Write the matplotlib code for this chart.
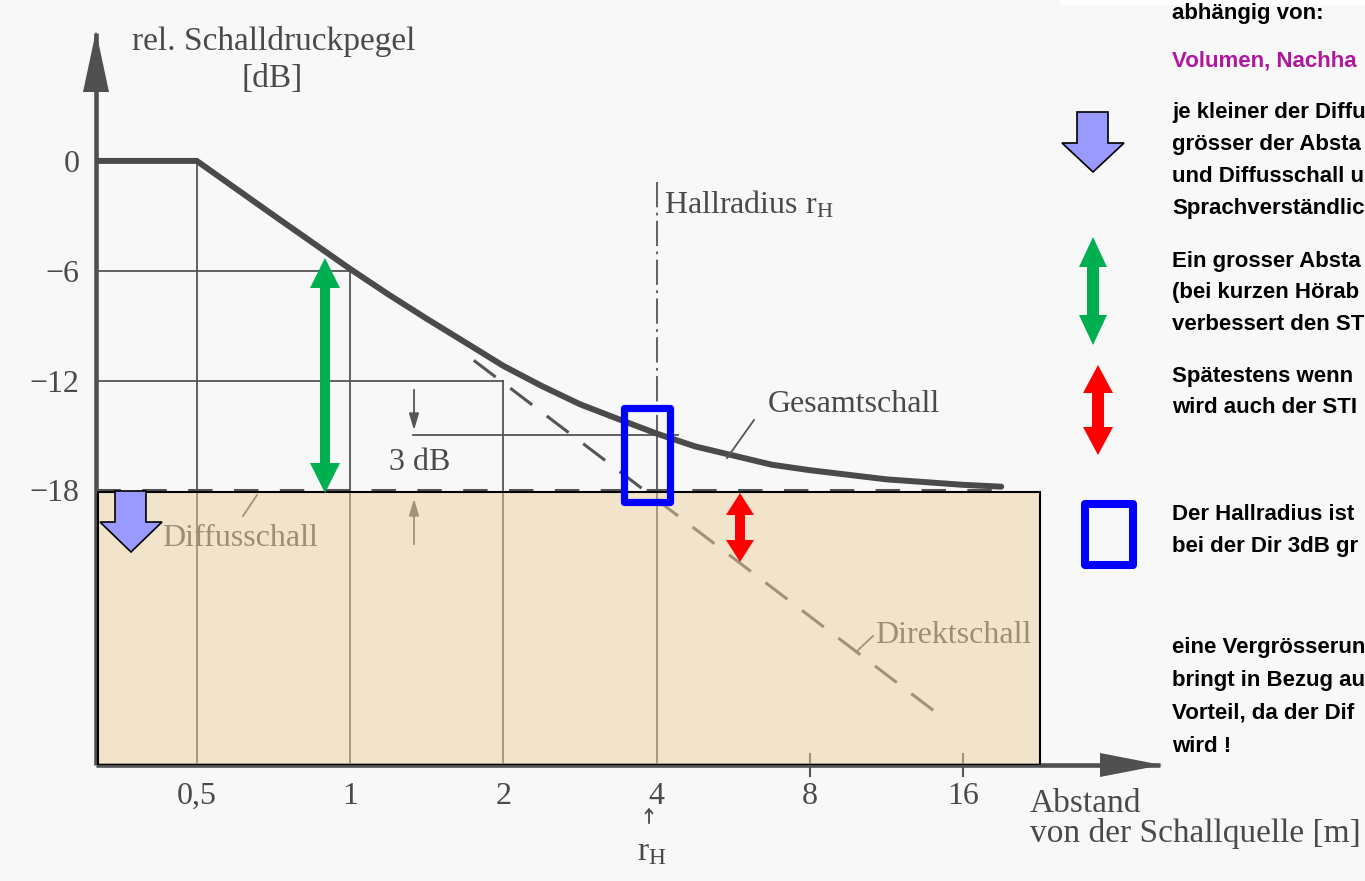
import matplotlib
matplotlib.use("Agg")
import matplotlib.pyplot as plt
from matplotlib.patches import Polygon, Rectangle
from matplotlib.lines import Line2D
from matplotlib.transforms import Affine2D
from matplotlib.ticker import NullLocator

plt.rcParams['mathtext.fontset'] = 'custom'
plt.rcParams['mathtext.rm'] = 'Liberation Serif'
plt.rcParams['mathtext.it'] = 'Liberation Serif:italic'

# ---------------- data ----------------
x_ticks = [0.5, 1, 2, 4, 8, 16]
x_ticklabels = ["0,5", "1", "2", "4", "8", "16"]
y_ticks = [0, -6, -12, -18]
y_ticklabels = ["0", "\u22126", "\u221212", "\u221218"]

dist_total = [0.317, 0.5, 0.71, 1.0, 1.19, 1.41, 1.68, 2.0, 2.38, 2.83, 3.36, 4.0,
              4.76, 5.66, 6.73, 8.0, 11.3, 16.0, 19.0]
level_total = [0, 0, -3.0, -5.9, -7.3, -8.6, -9.9, -11.2, -12.3, -13.3, -14.1, -14.9,
               -15.6, -16.1, -16.6, -16.9, -17.4, -17.7, -17.8]

dist_direct = [1.75, 14.4]
level_direct = [-10.9, -30.3]

dist_diffuse = [0.317, 19.0]
level_diffuse = [-18, -18]

hall_radius = 4
level_3db = -15

W, H = 1365, 881
fig = plt.figure(figsize=(W / 100, H / 100), dpi=100)
fig.patch.set_facecolor('#f8f8f8')
PX = Affine2D().scale(1 / W, -1 / H).translate(0, 1) + fig.transFigure

SERIF = 'Liberation Serif'
GRAY = '#4a4a4a'
LGRAY = '#555555'
FS = 23

ax = fig.add_axes([96 / W, 1 - 765 / H, (1160 - 96) / W, (765 - 33) / H])
ax.patch.set_alpha(0)
ax.set_xscale('log', base=2)
for s in ['top', 'right']:
    ax.spines[s].set_visible(False)
for s in ['left', 'bottom']:
    ax.spines[s].set_color('#505050')
    ax.spines[s].set_linewidth(3.3)
    ax.spines[s].set_capstyle('butt')

# construction lines
gl = dict(color=LGRAY, lw=1.3, zorder=3)
ax.plot([0.5, 0.5], [0, -33.5], **gl)
ax.plot([0.317, 1], [-6, -6], **gl)
ax.plot([1, 1], [-6, -33.5], **gl)
ax.plot([0.317, 2], [-12, -12], **gl)
ax.plot([2, 2], [-12, -33.5], **gl)
ax.plot([1.33, 4.4], [level_3db, level_3db], **gl)
ax.plot([hall_radius, hall_radius], [-1.15, level_3db], color=LGRAY, lw=1.3,
        dashes=(14, 3, 1.5, 3), zorder=3)
ax.plot([hall_radius, hall_radius], [level_3db, -33.5], **gl)
for t in [8, 16]:
    ax.plot([t, t], [-32.4, -33.6], color=LGRAY, lw=1.5, clip_on=False, zorder=3)

# curves
ax.plot(dist_direct, level_direct, color=LGRAY, lw=2.2, dashes=(9, 6), zorder=3)
ax.plot(dist_diffuse, level_diffuse, color=LGRAY, lw=2.2, dashes=(8, 7), zorder=3)
ax.plot(dist_total, level_total, color=GRAY, lw=4.3, solid_joinstyle='round',
        solid_capstyle='round', zorder=4)

ax.set_xticks(x_ticks)
ax.set_xticklabels(x_ticklabels, fontfamily=SERIF, fontsize=FS, color=GRAY)
ax.xaxis.set_minor_locator(NullLocator())
ax.set_yticks(y_ticks)
ax.set_yticklabels(y_ticklabels, fontfamily=SERIF, fontsize=FS, color=GRAY)
ax.tick_params(axis='x', length=0, pad=12)
ax.tick_params(axis='y', length=0, pad=12)
ax.set_xlim(0.317, 38.96)
ax.set_ylim(-33.01, 6.99)

# arrow heads of axes
fig.add_artist(Polygon([(96, 31), (83, 92), (109, 92)], closed=True,
                       facecolor='#505050', edgecolor='none', transform=PX))
fig.add_artist(Polygon([(1162, 765), (1100, 753), (1100, 777)], closed=True,
                       facecolor='#505050', edgecolor='none', transform=PX))

# beige overlay
ax.add_patch(Rectangle((0.320, -33.01), 22.6 - 0.320, 33.01 - 18.09,
                       facecolor='#eed2a0', alpha=0.5, edgecolor='none', zorder=5))
ax.add_patch(Rectangle((0.320, -33.01), 22.6 - 0.320, 33.01 - 18.09,
                       facecolor='none', edgecolor='black', lw=1.5, zorder=6))

# chart texts
def ptext(x, y, s, **kw):
    d = dict(fontfamily=SERIF, fontsize=FS, color=GRAY, transform=PX, zorder=4)
    d.update(kw)
    ax.text(x, y, s, **d)

def pline(xs, ys, **kw):
    d = dict(color=LGRAY, lw=1.3, zorder=4)
    d.update(kw)
    ax.add_artist(Line2D(xs, ys, transform=PX, **d))

ptext(274, 50, "rel. Schalldruckpegel", ha='center', va='baseline', fontsize=24)
ptext(272, 87, "[dB]", ha='center', va='baseline', fontsize=24)
ptext(664, 214, r"Hallradius r$_{\rm H}$", ha='left', va='baseline')
ptext(768, 412, "Gesamtschall", ha='left', va='baseline')
pline([727, 754], [458, 420])
ptext(420, 470, "3 dB", ha='center', va='baseline')
ptext(162, 546, "Diffusschall", ha='left', va='baseline')
pline([243, 257], [516, 495])
ptext(875, 643, "Direktschall", ha='left', va='baseline')
pline([856, 873], [652, 636])
ptext(1030, 812, "Abstand", ha='left', va='baseline', fontsize=24)
ptext(1030, 842, "von der Schallquelle [m]", ha='left', va='baseline', fontsize=24)
ptext(652, 860, r"r$_{\rm H}$", ha='center', va='baseline', fontsize=24)

ax.annotate('', xy=(649, 805), xytext=(649, 826), xycoords=PX, textcoords=PX,
            arrowprops=dict(arrowstyle='->,head_length=0.3,head_width=0.25',
                            lw=1.3, color=GRAY))
ax.annotate('', xy=(414, 433), xytext=(414, 387), xycoords=PX, textcoords=PX,
            arrowprops=dict(arrowstyle='-|>,head_length=1.0,head_width=0.3',
                            mutation_scale=10, lw=1.3, color=LGRAY), zorder=4)
ax.annotate('', xy=(414, 496), xytext=(414, 547), xycoords=PX, textcoords=PX,
            arrowprops=dict(arrowstyle='-|>,head_length=1.0,head_width=0.3',
                            mutation_scale=10, lw=1.3, color=LGRAY), zorder=4)

# coloured overlays
def double_arrow(xc, y1, y2, shaft, hw, hl, color):
    s = shaft / 2
    pts = [(xc, y1), (xc + hw, y1 + hl), (xc + s, y1 + hl), (xc + s, y2 - hl),
           (xc + hw, y2 - hl), (xc, y2), (xc - hw, y2 - hl), (xc - s, y2 - hl),
           (xc - s, y1 + hl), (xc - hw, y1 + hl)]
    fig.add_artist(Polygon(pts, closed=True, facecolor=color, edgecolor='none',
                           transform=PX, zorder=10))

def down_arrow(x0, x1, y0, ym, xh0, xh1, tip):
    xc = (xh0 + xh1) / 2
    pts = [(x0, y0), (x1, y0), (x1, ym), (xh1, ym), (xc, tip), (xh0, ym), (x0, ym)]
    fig.add_artist(Polygon(pts, closed=True, facecolor='#9999ff', edgecolor='black',
                           lw=1.2, transform=PX, zorder=10))

def blue_box(x0, y0, x1, y1, lw):
    fig.add_artist(Rectangle((x0, y0), x1 - x0, y1 - y0, facecolor='none',
                             edgecolor='#0000ff', lw=lw, joinstyle='round',
                             transform=PX, zorder=10))

double_arrow(325, 258, 493, 10, 15, 30, '#00b050')
double_arrow(740, 493, 562, 10, 14, 22, '#ff0000')
blue_box(624, 408, 670, 502, 5.2)
down_arrow(115, 146, 491, 522, 100, 162, 552)

double_arrow(1093, 237, 345, 12, 14, 30, '#00b050')
double_arrow(1098, 365, 455, 12, 15, 28, '#ff0000')
blue_box(1085, 504, 1133, 565, 5.8)
down_arrow(1077, 1108, 112, 143, 1062, 1124, 172)

# right-hand text (as far as it is visible in the reference)
fig.add_artist(Rectangle((1060, 0), 305, 5, facecolor='white', edgecolor='none',
                         transform=PX, zorder=1))
RT = dict(fontfamily='Liberation Sans', fontweight='bold', fontsize=16,
          color='black', ha='left', va='baseline', transform=PX)
right_lines = [
    (19, "abhängig von:", 'black'),
    (67, "Volumen, Nachha", '#b0169e'),
    (118, "je kleiner der Diffu", 'black'),
    (150, "grösser der Absta", 'black'),
    (182, "und Diffusschall u", 'black'),
    (214, "Sprachverständlic", 'black'),
    (267, "Ein grosser Absta", 'black'),
    (298, "(bei kurzen Hörab", 'black'),
    (330, "verbessert den ST", 'black'),
    (382, "Spätestens wenn", 'black'),
    (413, "wird auch der STI", 'black'),
    (520, "Der Hallradius ist", 'black'),
    (552, "bei der Dir 3dB gr", 'black'),
    (653, "eine Vergrösserun", 'black'),
    (686, "bringt in Bezug au", 'black'),
    (719, "Vorteil, da der Dif", 'black'),
    (752, "wird !", 'black'),
]
for y, s, c in right_lines:
    d = dict(RT)
    d['color'] = c
    fig.text(1172, y, s, **d)

fig.savefig('out.png', dpi=100, facecolor=fig.get_facecolor())
